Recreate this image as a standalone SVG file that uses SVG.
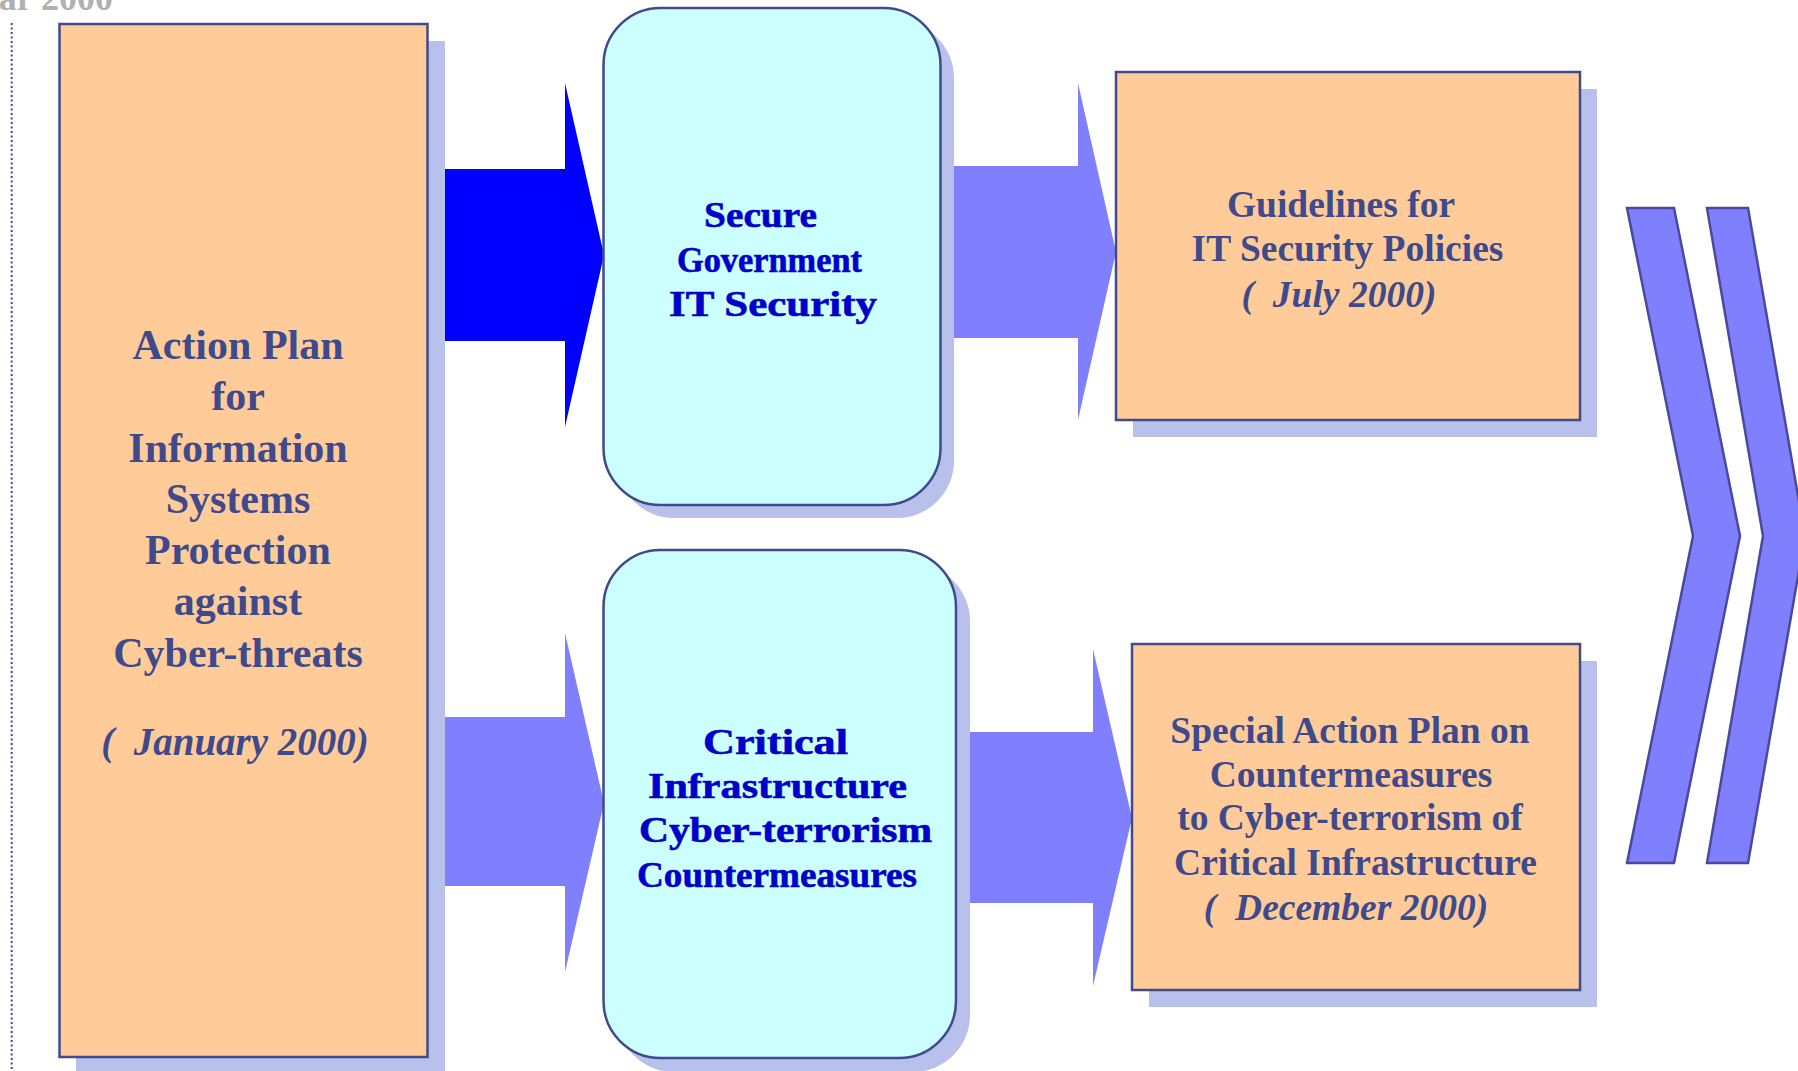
<svg xmlns="http://www.w3.org/2000/svg" width="1798" height="1071" viewBox="0 0 1798 1071">
<style>
.box{fill:#ffcc99;stroke:#404a8c;stroke-width:2.5}
.rbox{fill:#ccffff;stroke:#404a8c;stroke-width:2.5}
.shadow{fill:#b8c0ec}
.t{font-family:"Liberation Serif","Times New Roman",serif;font-weight:bold;fill:#3f4a8c;text-anchor:middle}
.ti{font-style:italic}
.m{font-family:"Liberation Serif","Times New Roman",serif;font-weight:bold;fill:#0000c8;font-size:36px;stroke:#0000c8;stroke-width:0.6}
.chev{fill:#8080ff;stroke:#4a4a9c;stroke-width:2.5;stroke-linejoin:miter}
</style>
<rect width="1798" height="1071" fill="#ffffff"/>
<text x="113" y="10" font-family="Liberation Serif, serif" font-weight="bold" font-size="36" fill="#b0b0b0" text-anchor="end">ar 2000</text>
<line x1="11.7" y1="23" x2="11.7" y2="1071" stroke="#404a8c" stroke-width="2" stroke-dasharray="2,2.5"/>

<g id="connectors">
<polygon points="445,169 565,169 565,83 604,255 565,427 565,341 445,341" fill="#0000ff"/>
<polygon points="954,166 1078,166 1078,83 1116,252 1078,420 1078,338 954,338" fill="#8080ff"/>
<polygon points="443,717 565,717 565,633 604,803 565,972 565,886 443,886" fill="#8080ff"/>
<polygon points="970,732 1093,732 1093,649 1132,818 1093,986 1093,903 970,903" fill="#8080ff"/>
</g>

<g id="action-plan">
<rect class="shadow" x="76" y="41" width="369" height="1040"/>
<rect class="box" x="59.5" y="24" width="368" height="1033"/>
<text class="t" font-size="42"><tspan x="238" y="359">Action Plan</tspan><tspan x="238" y="410">for</tspan><tspan x="238" y="462">Information</tspan><tspan x="238" y="513">Systems</tspan><tspan x="238" y="564">Protection</tspan><tspan x="238" y="615">against</tspan><tspan x="238" y="667">Cyber-threats</tspan></text>
<text class="t ti" font-size="39" x="235" y="755">(&#160; January 2000)</text>
</g>

<g id="secure-gov">
<rect class="shadow" x="617" y="21" width="337" height="497" rx="57"/>
<rect class="rbox" x="603.5" y="8" width="337" height="497" rx="57"/>
<text class="m" x="704" y="227" textLength="113" lengthAdjust="spacingAndGlyphs">Secure</text>
<text class="m" x="677" y="272" textLength="185" lengthAdjust="spacingAndGlyphs">Government</text>
<text class="m" x="669" y="316" textLength="208" lengthAdjust="spacingAndGlyphs">IT Security</text>
</g>

<g id="critical-infra">
<rect class="shadow" x="617" y="564" width="353" height="508" rx="57"/>
<rect class="rbox" x="603.5" y="550" width="352.5" height="508" rx="57"/>
<text class="m" x="703" y="754" textLength="145" lengthAdjust="spacingAndGlyphs">Critical</text>
<text class="m" x="648" y="798" textLength="259" lengthAdjust="spacingAndGlyphs">Infrastructure</text>
<text class="m" x="639" y="842" textLength="293" lengthAdjust="spacingAndGlyphs">Cyber-terrorism</text>
<text class="m" x="637" y="887" textLength="280" lengthAdjust="spacingAndGlyphs">Countermeasures</text>
</g>

<g id="guidelines">
<rect class="shadow" x="1133" y="89" width="464" height="348"/>
<rect class="box" x="1116" y="72" width="464" height="348"/>
<text class="t" font-size="37.5"><tspan x="1341" y="217">Guidelines for</tspan><tspan x="1347.5" y="261">IT Security Policies</tspan></text>
<text class="t ti" font-size="37.5" x="1339" y="307">(&#160; July 2000)</text>
</g>

<g id="special-plan">
<rect class="shadow" x="1149" y="661" width="448" height="346"/>
<rect class="box" x="1132" y="644" width="448" height="346"/>
<text class="t" font-size="37.5"><tspan x="1350" y="743">Special Action Plan on</tspan><tspan x="1351" y="787">Countermeasures</tspan><tspan x="1350" y="830">to Cyber-terrorism of</tspan><tspan x="1355.5" y="875">Critical Infrastructure</tspan></text>
<text class="t ti" font-size="37.5" x="1346" y="920">(&#160; December 2000)</text>
</g>

<g id="chevrons">
<polygon class="chev" points="1627,208 1674,208 1740,536 1674,863 1627,863 1693,536"/>
<polygon class="chev" points="1707,208 1748,208 1805,536 1748,863 1707,863 1763,536"/>
</g>
</svg>
